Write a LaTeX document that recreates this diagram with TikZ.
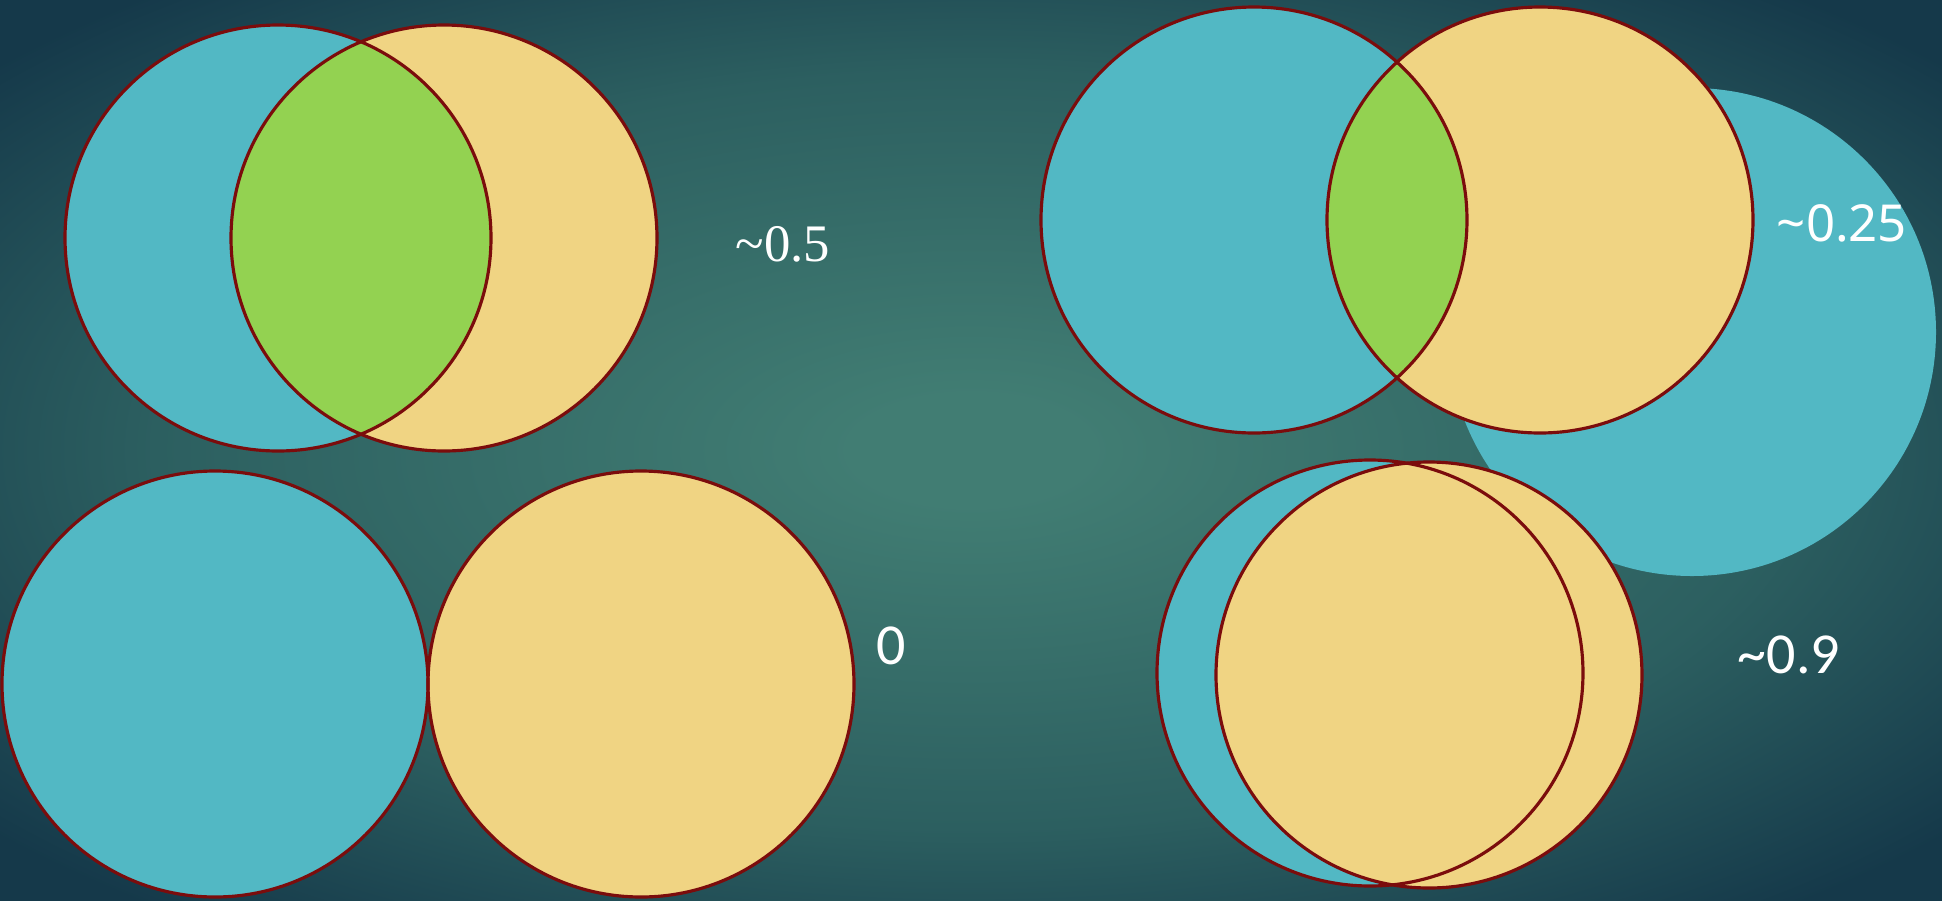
\documentclass[tikz,border=0pt]{standalone}
\usepackage{fontspec}
\setmainfont{Liberation Serif}
\newfontfamily\scoresans{Noto Sans}
\newfontfamily\scorenarrow{Carlito}
\usepackage{xcolor}
\usetikzlibrary{positioning,backgrounds}
\definecolor{cBgIn}{HTML}{417D73}
\definecolor{cBgMid}{HTML}{2C5F60}
\definecolor{cBgOut}{HTML}{15394A}
\definecolor{cSetA}{HTML}{52B8C4}
\definecolor{cSetB}{HTML}{F0D483}
\definecolor{cBoth}{HTML}{93D251}
\definecolor{cRim}{HTML}{7B0C0C}
\pgfdeclareradialshading{bgglow}{\pgfpoint{0bp}{0bp}}{%
  color(0bp)=(cBgIn); color(3bp)=(cBgIn); color(21bp)=(cBgMid);
  color(33bp)=(cBgOut); color(50bp)=(cBgOut)}
\tikzset{
  venn/seta/.style   ={fill=cSetA},
  venn/setb/.style   ={fill=cSetB},
  venn/both/.style   ={fill=cBoth},
  venn/rim/.style    ={draw=cRim, line width=0.9pt},
  venn/score/.style  ={text=white, anchor=base, inner sep=0pt}
}
\newcommand{\rset}{2.13}

\begin{document}
\begin{tikzpicture}
    % --- canvas ---
    \useasboundingbox (0,0) rectangle (19.42,-9.00);
    \shade[shading=bgglow] (0,0) rectangle (19.42,-9.00);

    % --- set centres ---
    \coordinate (a1) at (2.78,-2.38);  \coordinate (b1) at (4.44,-2.38);
    \coordinate (a2) at (2.15,-6.84);  \coordinate (b2) at (6.41,-6.84);
    \coordinate (a3) at (12.54,-2.20); \coordinate (b3) at (15.40,-2.20);
    \coordinate (c3) at (16.92,-3.32);
    \coordinate (a4) at (13.70,-6.73); \coordinate (b4) at (14.29,-6.75);

    % --- top left: half overlap ---
    \fill[venn/seta] (a1) circle[radius=\rset];
    \fill[venn/setb] (b1) circle[radius=\rset];
    \begin{scope}
      \clip (a1) circle[radius=\rset];
      \fill[venn/both] (b1) circle[radius=\rset];
    \end{scope}
    \draw[venn/rim] (a1) circle[radius=\rset];
    \draw[venn/rim] (b1) circle[radius=\rset];
    \node[venn/score, font=\fontsize{15}{18}\selectfont] (s1) at (7.83,-2.61)
         {\textasciitilde0.5};

    % --- bottom left: no overlap ---
    \fill[venn/seta] (a2) circle[radius=\rset];
    \fill[venn/setb] (b2) circle[radius=\rset];
    \draw[venn/rim] (a2) circle[radius=\rset];
    \draw[venn/rim] (b2) circle[radius=\rset];
    \node[venn/score, font=\scorenarrow\fontsize{16.5}{20}\selectfont] (s2) at (8.91,-6.64) {0};

    % --- top right: small overlap, large union ---
    \fill[venn/seta] (c3) circle[radius=2.44];
    \fill[venn/seta] (a3) circle[radius=\rset];
    \fill[venn/setb] (b3) circle[radius=\rset];
    \begin{scope}
      \clip (a3) circle[radius=\rset];
      \fill[venn/both] (b3) circle[radius=\rset];
    \end{scope}
    \draw[venn/rim] (a3) circle[radius=\rset];
    \draw[venn/rim] (b3) circle[radius=\rset];
    \node[venn/score, font=\scoresans\fontsize{14.5}{18}\selectfont] (s3) at (18.42,-2.41)
         {\textasciitilde0.25};

    % --- bottom right: near full overlap ---
    \fill[venn/seta] (a4) circle[radius=\rset];
    \fill[venn/setb] (b4) circle[radius=\rset];
    \draw[venn/rim] (a4) circle[radius=\rset];
    \draw[venn/rim] (b4) circle[radius=\rset];
    \node[venn/score, font=\scorenarrow\fontsize{16.5}{20}\selectfont] (s4) at (17.89,-6.73)
         {\textasciitilde0.9};
\end{tikzpicture}
\end{document}
